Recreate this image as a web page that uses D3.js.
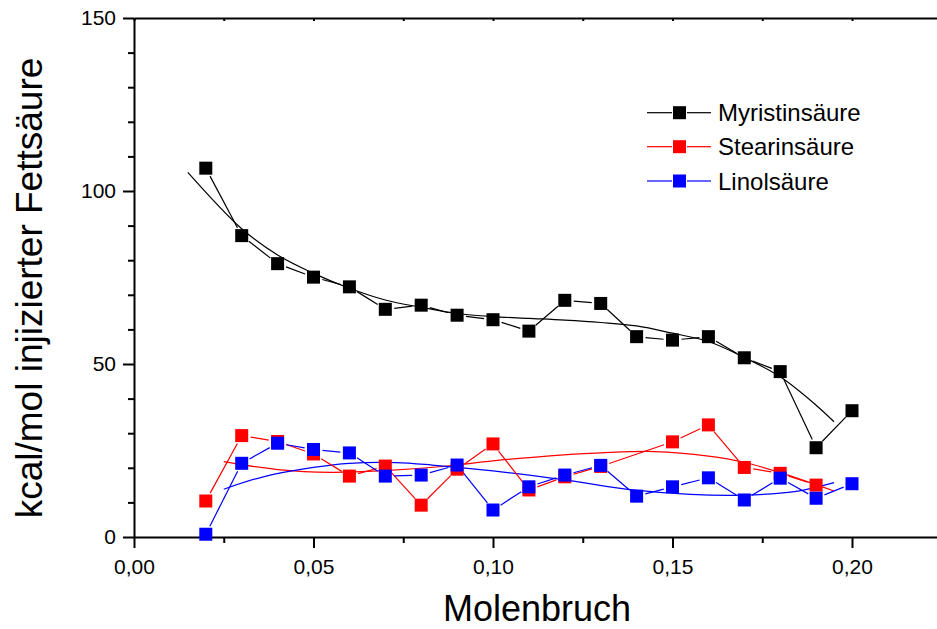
<!DOCTYPE html>
<html>
<head>
<meta charset="utf-8">
<script src="https://cdn.jsdelivr.net/npm/d3@7"></script>
<style>
  body { margin: 0; background: #fff; }
  svg { display: block; font-family: Arial, "Liberation Sans", sans-serif; }
</style>
</head>
<body>
<svg id="chart" width="937" height="629"></svg>
<script>
// measured points
var molFraction = [0.02, 0.03, 0.04, 0.05, 0.06, 0.07, 0.08, 0.09, 0.10, 0.11,
                   0.12, 0.13, 0.14, 0.15, 0.16, 0.17, 0.18, 0.19, 0.20];
var myristin = [106.6, 87.1, 79.0, 75.1, 72.3, 65.8, 67.0, 64.1, 62.8, 59.5,
                68.4, 67.5, 57.9, 56.9, 57.9, 51.8, 47.8, 25.8, 36.5];
var stearin  = [10.4, 29.3, 27.6, 24.0, 17.6, 20.5, 9.2, 19.6, 26.9, 13.6,
                17.4, 20.4, null, 27.5, 32.4, 20.1, 18.4, 15.0, null];
var linol    = [0.8, 21.3, 27.1, 25.3, 24.3, 17.6, 17.9, 20.8, 7.8, 14.5,
                17.9, 20.7, 11.8, 14.5, 17.1, 10.7, 17.0, 11.2, 15.4];

// smoothed fit curves
var myristinFitX = [0.015, 0.03, 0.04, 0.05, 0.06, 0.07, 0.08, 0.09, 0.10, 0.11,
                    0.12, 0.13, 0.14, 0.15, 0.16, 0.17, 0.18, 0.19, 0.195];
var myristinFit  = [105.4, 89.1, 81.5, 76.2, 71.9, 68.5, 66.4, 64.6, 63.7, 63.2,
                    62.7, 62.0, 61.0, 58.9, 56.5, 51.9, 46.3, 38.1, 33.3];
var stearinFitX  = [0.025, 0.04, 0.055, 0.07, 0.085, 0.10, 0.115, 0.13, 0.145,
                    0.16, 0.17, 0.18, 0.195];
var stearinFit   = [21.8, 19.5, 18.7, 19.2, 20.3, 22.0, 23.4, 24.3, 24.7,
                    23.4, 21.6, 18.6, 13.3];
var linolFitX    = [0.025, 0.036, 0.05, 0.06, 0.073, 0.083, 0.10, 0.12, 0.139,
                    0.155, 0.17, 0.184, 0.195];
var linolFit     = [13.8, 17.4, 20.1, 21.3, 21.5, 20.8, 19.1, 16.5, 13.6,
                    12.3, 12.1, 13.1, 15.7];

var seriesNames = ["Myristinsäure", "Stearinsäure", "Linolsäure"];
var seriesColors = ["#000000", "#ff0000", "#0000ff"];

var xTicks = [0, 0.025, 0.05, 0.075, 0.10, 0.125, 0.15, 0.175, 0.20, 0.225];
var yTicks = [0, 10, 20, 30, 40, 50, 60, 70, 80, 90, 100, 110, 120, 130, 140, 150];

var svg = d3.select("#chart");

var x = d3.scaleLinear().domain([0, 0.225]).range([134, 941.75]);
var y = d3.scaleLinear().domain([0, 150]).range([537, 18]);

var de = d3.formatLocale({decimal: ",", thousands: ".", grouping: [3], currency: ["", ""]});
var fmtX = de.format(".2f");

function isMajorX(v) { return Math.abs(v / 0.05 - Math.round(v / 0.05)) < 1e-6; }
function isMajorY(v) { return v % 50 === 0; }

// bottom axis: minor ticks, then major ticks with labels
svg.append("g")
    .attr("transform", "translate(0,537)")
    .call(d3.axisBottom(x).tickValues(xTicks.filter(function(v) { return !isMajorX(v); }))
        .tickSize(6).tickSizeOuter(0).tickFormat(""))
    .call(function(g) { g.select(".domain").remove(); });

svg.append("g")
    .attr("class", "axis")
    .attr("transform", "translate(0,537)")
    .call(d3.axisBottom(x).tickValues(xTicks.filter(isMajorX))
        .tickSize(11).tickPadding(11).tickSizeOuter(0).tickFormat(fmtX));

// top frame line with short inward ticks
svg.append("g")
    .attr("transform", "translate(0,18)")
    .call(d3.axisTop(x).tickValues(xTicks).tickSize(-3).tickSizeOuter(0).tickFormat(""));

// left axis
svg.append("g")
    .attr("transform", "translate(134,0)")
    .call(d3.axisLeft(y).tickValues(yTicks.filter(function(v) { return !isMajorY(v); }))
        .tickSize(6).tickSizeOuter(0).tickFormat(""))
    .call(function(g) { g.select(".domain").remove(); });

svg.append("g")
    .attr("class", "axis")
    .attr("transform", "translate(134,0)")
    .call(d3.axisLeft(y).tickValues(yTicks.filter(isMajorY))
        .tickSize(11).tickPadding(7).tickSizeOuter(0));

svg.selectAll(".domain, .tick line")
    .attr("stroke", "#000")
    .attr("stroke-width", 2);

svg.selectAll(".axis text")
    .attr("font-family", "Arial, 'Liberation Sans', sans-serif")
    .attr("font-size", 21)
    .attr("fill", "#000");

// axis titles
svg.append("text")
    .attr("x", 537)
    .attr("y", 621)
    .attr("text-anchor", "middle")
    .attr("font-size", 36)
    .text("Molenbruch");

svg.append("text")
    .attr("transform", "translate(42,288) rotate(-90)")
    .attr("text-anchor", "middle")
    .attr("font-size", 37)
    .text("kcal/mol injizierter Fettsäure");

var fitLine = d3.line()
    .x(function(d) { return x(d[0]); })
    .y(function(d) { return y(d[1]); })
    .curve(d3.curveCatmullRom);

var fits = [
  d3.zip(myristinFitX, myristinFit),
  d3.zip(stearinFitX, stearinFit),
  d3.zip(linolFitX, linolFit)
];
var measured = [myristin, stearin, linol];

var plot = svg.append("g");

fits.forEach(function(pts, i) {
  plot.append("path")
      .datum(pts)
      .attr("d", fitLine)
      .attr("fill", "none")
      .attr("stroke", seriesColors[i])
      .attr("stroke-width", 1.2);
});

// connecting segments stop short of each marker
var gap = 9;
measured.forEach(function(vals, i) {
  var pts = molFraction.map(function(m, j) { return [m, vals[j]]; })
      .filter(function(d) { return d[1] !== null; })
      .map(function(d) { return [x(d[0]), y(d[1])]; });

  var segs = d3.pairs(pts).map(function(p) {
    var dx = p[1][0] - p[0][0], dy = p[1][1] - p[0][1];
    var len = Math.sqrt(dx * dx + dy * dy);
    var ux = dx / len, uy = dy / len;
    return [p[0][0] + ux * gap, p[0][1] + uy * gap, p[1][0] - ux * gap, p[1][1] - uy * gap, len];
  }).filter(function(s) { return s[4] > 2 * gap; });

  plot.append("g").selectAll("line")
      .data(segs)
      .enter().append("line")
      .attr("x1", function(s) { return s[0]; })
      .attr("y1", function(s) { return s[1]; })
      .attr("x2", function(s) { return s[2]; })
      .attr("y2", function(s) { return s[3]; })
      .attr("stroke", seriesColors[i])
      .attr("stroke-width", 1.2);
});

var size = 13;
measured.forEach(function(vals, i) {
  var pts = molFraction.map(function(m, j) { return [m, vals[j]]; })
      .filter(function(d) { return d[1] !== null; });

  plot.append("g").selectAll("rect")
      .data(pts)
      .enter().append("rect")
      .attr("x", function(d) { return x(d[0]) - size / 2; })
      .attr("y", function(d) { return y(d[1]) - size / 2; })
      .attr("width", size)
      .attr("height", size)
      .attr("fill", seriesColors[i]);
});

// legend
var legend = svg.append("g");
var rowY = [112.7, 146.7, 181];

seriesNames.forEach(function(name, i) {
  var row = legend.append("g").attr("transform", "translate(0," + rowY[i] + ")");
  row.append("line")
      .attr("x1", 647).attr("x2", 672)
      .attr("stroke", seriesColors[i]).attr("stroke-width", 1.2);
  row.append("line")
      .attr("x1", 687).attr("x2", 711)
      .attr("stroke", seriesColors[i]).attr("stroke-width", 1.2);
  row.append("rect")
      .attr("x", 679.5 - size / 2).attr("y", -size / 2)
      .attr("width", size).attr("height", size)
      .attr("fill", seriesColors[i]);
  row.append("text")
      .attr("x", 718).attr("y", 8.5)
      .attr("font-size", 24)
      .text(name);
});
</script>
</body>
</html>
